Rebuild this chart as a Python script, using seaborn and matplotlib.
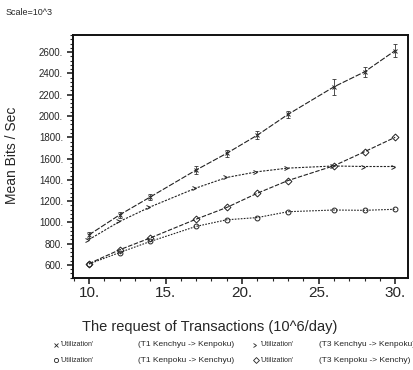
import matplotlib
matplotlib.use("Agg")
import matplotlib.pyplot as plt
import seaborn as sns
import pandas as pd
from matplotlib.lines import Line2D
from matplotlib.ticker import FuncFormatter, MultipleLocator, AutoMinorLocator

# ------------------------
# Data (Mean Bits / Sec, scale 10^3)
# ------------------------
requests = [10, 12, 14, 17, 19, 21, 23, 26, 28, 30]
t1_kenchyu_kenpoku = [882, 1070, 1238, 1492, 1649, 1820, 2015, 2274, 2415, 2615]
t1_err = [30, 30, 30, 35, 35, 40, 35, 75, 45, 60]
t3_kenchyu_kenpoku = [838, 1008, 1145, 1323, 1422, 1476, 1510, 1530, 1525, 1525]
t3_kenpoku_kenchyu = [612, 742, 853, 1030, 1140, 1274, 1393, 1532, 1664, 1800]
t1_kenpoku_kenchyu = [608, 716, 820, 962, 1024, 1045, 1100, 1116, 1113, 1123]

y_ticks = [600, 800, 1000, 1200, 1400, 1600, 1800, 2000, 2200, 2400, 2600]
x_ticks = [10, 15, 20, 25, 30]

series = [
    ("T1 Kenchyu -> Kenpoku", t1_kenchyu_kenpoku, "x", (0, (5, 1.5))),
    ("T3 Kenchyu -> Kenpoku", t3_kenchyu_kenpoku, 5, (0, (2, 1.2))),
    ("T3 Kenpoku -> Kenchy", t3_kenpoku_kenchyu, "D", (0, (4, 1.5))),
    ("T1 Kenpoku -> Kenchyu", t1_kenpoku_kenchyu, "o", (0, (1.5, 1.2))),
]

sns.set_style("ticks")
plt.rcParams["font.family"] = ["Liberation Sans", "DejaVu Sans"]

fig = plt.figure(figsize=(4.14, 3.70), dpi=100)
ax = fig.add_axes([0.176, 0.249, 0.810, 0.656])

for name, values, mk, ls in series:
    df = pd.DataFrame({"Request": requests, "Bits": values})
    sns.lineplot(data=df, x="Request", y="Bits", ax=ax, color="#222222",
                 linestyle=ls, linewidth=0.8, marker=mk, markersize=3.5,
                 markerfacecolor="none", markeredgecolor="#222222",
                 markeredgewidth=0.7)

ax.errorbar(requests, t1_kenchyu_kenpoku, yerr=t1_err, fmt="none",
            ecolor="#333333", elinewidth=0.6, capsize=1.2, capthick=0.6)

ax.set_xlim(8.95, 30.85)
ax.set_ylim(478, 2760)
ax.set_xticks(x_ticks)
ax.set_yticks(y_ticks)
ax.xaxis.set_minor_locator(MultipleLocator(1))
ax.yaxis.set_minor_locator(AutoMinorLocator(5))
ax.xaxis.set_major_formatter(FuncFormatter(lambda v, p: f"{v:.0f}."))
ax.yaxis.set_major_formatter(FuncFormatter(lambda v, p: f"{v:.0f}."))
ax.tick_params(axis="x", which="major", labelsize=11, length=4, width=1.2, pad=2)
ax.tick_params(axis="y", which="major", labelsize=7, length=4, width=1.2, pad=3)
ax.tick_params(which="minor", length=2, width=0.8)
for side in ["top", "right", "left", "bottom"]:
    ax.spines[side].set_visible(True)
    ax.spines[side].set_linewidth(1.4)
    ax.spines[side].set_color("#111111")

ax.set_xlabel("")
ax.set_ylabel("")
fig.text(0.028, 0.58, "Mean Bits / Sec", rotation=90, ha="center", va="center",
         fontsize=10)
fig.text(0.507, 0.117, "The request of Transactions (10^6/day)", ha="center",
         va="center", fontsize=10.5)
fig.text(0.014, 0.967, "Scale=10^3", ha="left", va="center", fontsize=6.5)

# bottom legend, two rows of two entries
legend_rows = [
    [(series[0], 0.135, 0.333), (series[1], 0.618, 0.770)],
    [(series[3], 0.135, 0.333), (series[2], 0.618, 0.770)],
]
for row_y, row in zip([0.068, 0.027], legend_rows):
    for (name, values, mk, ls), mx, rx in row:
        fig.add_artist(Line2D([mx], [row_y], marker=mk, markersize=3,
                              markerfacecolor="none", markeredgecolor="#222222",
                              markeredgewidth=0.6, transform=fig.transFigure))
        fig.text(mx + 0.012, row_y, "'Utilization'", ha="left", va="center",
                 fontsize=5)
        fig.text(rx, row_y, f"({name})", ha="left", va="center", fontsize=6)

fig.savefig("out.png", dpi=100, facecolor="white")
